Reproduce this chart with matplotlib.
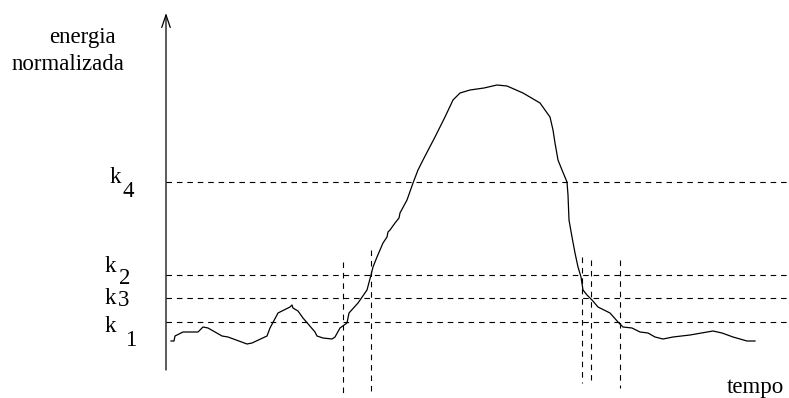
import matplotlib.pyplot as plt

plt.rcParams['font.family'] = ['Liberation Serif', 'DejaVu Serif']
plt.rcParams['lines.scale_dashes'] = False

W, H = 789, 398

# energy curve (pixel units, y grows downwards)
curve_x = [171, 174, 175, 183, 198, 203, 208, 222, 228, 247, 252, 267, 270, 278,
           290, 292, 293, 298, 303, 315, 317, 323, 332, 335, 340, 347, 349, 358,
           367, 371, 373, 377, 383, 387, 388, 390, 395, 399, 400, 407, 413, 418,
           423, 435, 445, 453, 460, 470, 484, 497, 507, 523, 540, 550, 553, 555,
           558, 562, 567, 568, 569, 572, 575, 578, 581, 583, 587, 592, 598, 610,
           618, 623, 632, 640, 648, 655, 663, 673, 690, 713, 722, 733, 747, 755]
curve_y = [341, 341, 336, 332, 332, 327, 328, 336, 337, 344, 343, 336, 328, 313,
           307, 305, 308, 311, 318, 332, 336, 338, 339, 337, 328, 323, 313, 303,
           290, 275, 267, 257, 243, 237, 232, 230, 223, 218, 213, 200, 183, 170,
           160, 137, 117, 100, 93, 90, 88, 85, 86, 93, 103, 117, 130, 143,
           160, 170, 182, 195, 220, 237, 253, 267, 277, 290, 295, 300, 307, 313,
           322, 327, 328, 332, 333, 337, 339, 337, 335, 331, 333, 337, 341, 341]

# thresholds and their labels
levels = ['4', '2', '3', '1']
level_y = [182, 275, 298, 322]
k_pos = [(110, 183), (105, 272), (105, 304), (105, 332)]
sub_pos = [(123, 197), (119, 284), (118, 306), (125, 346)]

# crossing markers
cross_x = [343, 371, 582, 591, 620]
cross_top = [262, 250, 257, 260, 260]
cross_bot = [395, 395, 383, 380, 388]

x_axis_y = 346
y_axis_x = 166
fs = 16.5

fig = plt.figure(figsize=(W / 100, H / 100), dpi=100)
ax = fig.add_axes([0, 0, 1, 1])
ax.set_xlim(0, W)
ax.set_ylim(H, 0)
ax.axis('off')

# axes with arrows
arrow = dict(arrowstyle='->,head_length=0.5,head_width=0.17', lw=0.9,
             color='black', shrinkA=0, shrinkB=0, mutation_scale=18)
ax.annotate('', xy=(y_axis_x, 13), xytext=(y_axis_x, 370), arrowprops=arrow)
ax.annotate('', xy=(792, x_axis_y), xytext=(143, x_axis_y), arrowprops=arrow)

for name, y, kp, sp in zip(levels, level_y, k_pos, sub_pos):
    ax.plot([y_axis_x, W], [y, y], color='black', lw=0.8, dashes=(4, 3.5))
    ax.text(kp[0], kp[1], 'k', fontsize=fs, ha='left', va='baseline')
    ax.text(sp[0], sp[1], name, fontsize=fs, ha='left', va='baseline')

for x, t, b in zip(cross_x, cross_top, cross_bot):
    ax.plot([x, x], [t, b], color='black', lw=0.8, dashes=(4, 3.5))

ax.plot(curve_x, curve_y, color='black', lw=0.9)

ax.text(49, 43, 'energia', fontsize=fs, ha='left', va='baseline')
ax.text(12, 70, 'normalizada', fontsize=fs, ha='left', va='baseline')
ax.text(784, 393, 'tempo', fontsize=fs, ha='right', va='baseline')

fig.savefig('out.png', dpi=100)
